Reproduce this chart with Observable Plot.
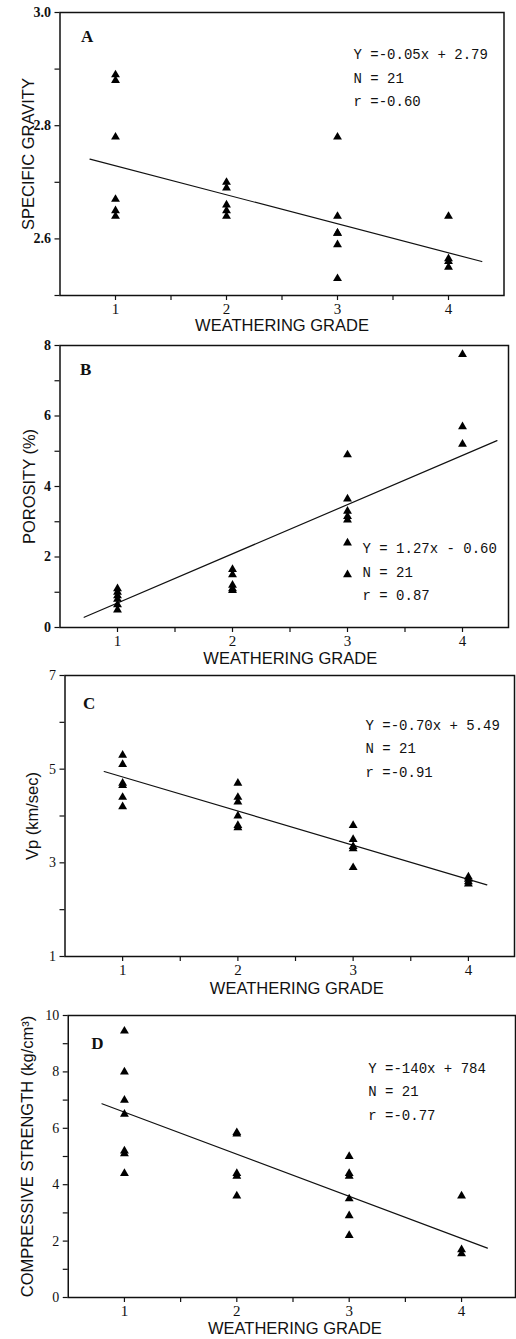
<!DOCTYPE html>
<html><head><meta charset="utf-8">
<script src="https://cdn.jsdelivr.net/npm/d3@7"></script>
<script src="https://cdn.jsdelivr.net/npm/@observablehq/plot@0.6"></script>
<style>
body{margin:0;background:#fff;width:516px;overflow:hidden}
#chart svg{display:block}
g[aria-label="axis-title"] text{word-spacing:7px}
g[aria-label="x-axis tick label"] text{font-size:15px !important;font-family:'Liberation Serif',serif !important}
g[aria-label="y-axis tick label"] text{font-size:14px !important;font-family:'Liberation Serif',serif !important}
g[aria-label="panel-letter"] text{font-size:17px !important}
</style></head><body><div id="chart"></div><script>
// ---- shared ----
const grades = [1, 2, 3, 4];
const xTicks = [1, 1.5, 2, 2.5, 3, 3.5, 4];
const xTitle = "WEATHERING GRADE";

// ---- Panel A: specific gravity ----
const gradeA = [1,1,1,1,1,1, 2,2,2,2,2, 3,3,3,3,3,3, 4,4,4,4];
const valueA = [2.89,2.88,2.78,2.67,2.65,2.64, 2.70,2.69,2.66,2.65,2.64, 2.78,2.64,2.61,2.61,2.59,2.53, 2.64,2.565,2.56,2.55];
const fitXA = [0.77, 4.30];
const fitYA = [2.741, 2.56];
const yTicksA = [2.5, 2.6, 2.7, 2.8, 2.9, 3.0];
const yLabelsA = ["", "2.6", "", "2.8", "", "3.0"];
const statsA = ["Y =-0.05x + 2.79", "N = 21", "r =-0.60"];

// ---- Panel B: porosity ----
const gradeB = [1,1,1,1,1,1, 2,2,2,2,2, 3,3,3,3,3,3,3, 4,4,4];
const valueB = [1.1,1.0,0.9,0.8,0.65,0.5, 1.65,1.5,1.2,1.1,1.05, 4.9,3.65,3.3,3.15,3.05,2.4,1.5, 7.75,5.7,5.2];
const fitXB = [0.71, 4.30];
const fitYB = [0.29, 5.30];
const yTicksB = [0, 1, 2, 3, 4, 5, 6, 7, 8];
const yLabelsB = ["0", "", "2", "", "4", "", "6", "", "8"];
const statsB = ["Y = 1.27x - 0.60", "N = 21", "r = 0.87"];

// ---- Panel C: Vp ----
const gradeC = [1,1,1,1,1,1, 2,2,2,2,2,2, 3,3,3,3,3, 4,4,4,4];
const valueC = [5.3,5.1,4.7,4.65,4.4,4.2, 4.7,4.4,4.3,4.0,3.8,3.75, 3.8,3.5,3.35,3.3,2.9, 2.7,2.65,2.6,2.55];
const fitXC = [0.84, 4.16];
const fitYC = [4.95, 2.53];
const yTicksC = [1, 2, 3, 4, 5, 6, 7];
const yLabelsC = ["1", "", "3", "", "5", "", "7"];
const statsC = ["Y =-0.70x + 5.49", "N = 21", "r =-0.91"];

// ---- Panel D: compressive strength ----
const gradeD = [1,1,1,1,1,1,1, 2,2,2,2,2, 3,3,3,3,3,3, 4,4,4];
const valueD = [9.45,8.0,7.0,6.5,5.2,5.1,4.4, 5.85,5.8,4.4,4.3,3.6, 5.0,4.4,4.3,3.5,2.9,2.2, 3.6,1.7,1.55];
const fitXD = [0.80, 4.23];
const fitYD = [6.87, 1.75];
const yTicksD = [0, 1, 2, 3, 4, 5, 6, 7, 8, 9, 10];
const yLabelsD = ["0", "", "2", "", "4", "", "6", "", "8", "", "10"];
const statsD = ["Y =-140x + 784", "N = 21", "r =-0.77"];

const panels = [
  {letter:"A", grade:gradeA, value:valueA, fitX:fitXA, fitY:fitYA, yTicks:yTicksA, yLabels:yLabelsA, stats:statsA,
   yTitle:"SPECIFIC GRAVITY", xDomain:[0.5,4.5], yDomain:[2.5,3.0], height:335, mt:12, mb:40, ml:59.5, mr:12.5,
   yBold:true, letterDx:21, letterDy:17, statsDx:293.5, statsDy:30, xtDx:0, xtDy:30, ytDx:-31.5},
  {letter:"B", grade:gradeB, value:valueB, fitX:fitXB, fitY:fitYB, yTicks:yTicksB, yLabels:yLabelsB, stats:statsB,
   yTitle:"POROSITY (%)", xDomain:[0.5,4.4], yDomain:[0,8], height:330, mt:10, mb:38, ml:59.5, mr:8,
   yBold:true, letterDx:20, letterDy:17, statsDx:302.5, statsDy:191, xtDx:6, xtDy:31, ytDx:-30.5},
  {letter:"C", grade:gradeC, value:valueC, fitX:fitXC, fitY:fitYC, yTicks:yTicksC, yLabels:yLabelsC, stats:statsC,
   yTitle:"Vp (km/sec)", xDomain:[0.5,4.4], yDomain:[1,7], height:333, mt:10, mb:42, ml:64.5, mr:2,
   yBold:false, letterDx:18, letterDy:21, statsDx:300.5, statsDy:37.7, xtDx:7, xtDy:32, ytDx:-32.5},
  {letter:"D", grade:gradeD, value:valueD, fitX:fitXD, fitY:fitYD, yTicks:yTicksD, yLabels:yLabelsD, stats:statsD,
   yTitle:"COMPRESSIVE STRENGTH (kg/cm³)", xDomain:[0.5,4.48], yDomain:[0,10], height:341, mt:17, mb:42, ml:67.75, mr:1,
   yBold:false, letterDx:23, letterDy:21, statsDx:300, statsDy:40.4, xtDx:3, xtDy:31, ytDx:-40.5}
];

function panel(p) {
  const pts = p.grade.map((g, i) => ({x: g, y: p.value[i]}));
  const fit = p.fitX.map((x, i) => ({x, y: p.fitY[i]}));
  const yFmt = d => p.yLabels[p.yTicks.indexOf(d)] ?? "";
  return Plot.plot({
    width: 516, height: p.height,
    marginTop: p.mt, marginBottom: p.mb, marginLeft: p.ml, marginRight: p.mr,
    x: {domain: p.xDomain},
    y: {domain: p.yDomain},
    style: {background: "white", color: "#111", fontFamily: "'Liberation Serif', serif", overflow: "visible"},
    marks: [
      Plot.frame({stroke: "#111", strokeWidth: 1.5}),
      Plot.axisX({ticks: xTicks, tickFormat: d => grades.includes(d) ? String(d) : "", tickSize: 5, tickPadding: 3,
                  fontSize: 15, label: null, strokeWidth: 1.2}),
      Plot.axisY({ticks: p.yTicks, tickFormat: yFmt, tickSize: 5, tickPadding: 4,
                  fontSize: 14, fontWeight: p.yBold ? "bold" : "normal", label: null, strokeWidth: 1.2}),
      Plot.line(fit, {x: "x", y: "y", stroke: "#111", strokeWidth: 1.2}),
      Plot.dot(pts, {x: "x", y: "y", symbol: "triangle", fill: "#000", r: 3.3}),
      Plot.text([p.letter], {frameAnchor: "top-left", textAnchor: "start", lineAnchor: "top", dx: p.letterDx, dy: p.letterDy,
                  fontSize: 17, fontWeight: "bold", fontFamily: "'Liberation Serif', serif", fill: "#111", ariaLabel: "panel-letter"}),
      Plot.text([p.stats.join("\n")], {frameAnchor: "top-left", textAnchor: "start", lineAnchor: "top", dx: p.statsDx, dy: p.statsDy,
                  lineHeight: 1.68, fontSize: 14, fontFamily: "'Liberation Mono', monospace", fill: "#111"}),
      Plot.text([xTitle], {frameAnchor: "bottom", lineAnchor: "middle", dx: p.xtDx, dy: p.xtDy, fontSize: 16.5,
                  fontFamily: "'Liberation Sans', Arial, sans-serif", fill: "#111", ariaLabel: "axis-title"}),
      Plot.text([p.yTitle], {frameAnchor: "left", lineAnchor: "middle", textAnchor: "middle", rotate: -90, dx: p.ytDx, fontSize: 16.5,
                  fontFamily: "'Liberation Sans', Arial, sans-serif", fill: "#111", ariaLabel: "axis-title"})
    ]
  });
}

const host = document.getElementById("chart");
panels.forEach(p => host.appendChild(panel(p)));
</script></body></html>
